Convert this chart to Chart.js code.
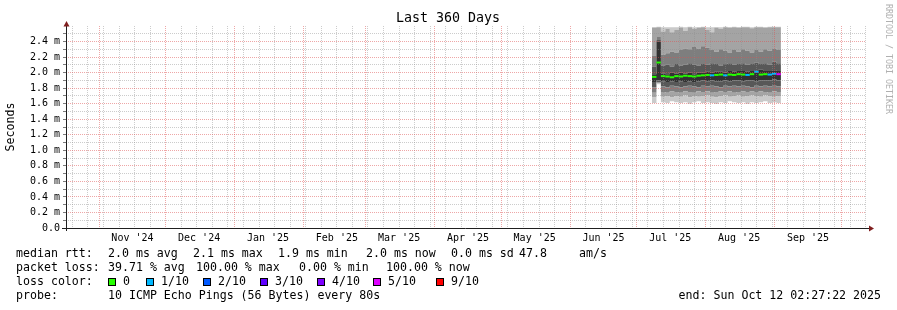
<!DOCTYPE html>
<html lang="en">
<head>
<meta charset="UTF-8">
<title>Last 360 Days</title>
<style>
  html, body { margin: 0; padding: 0; background: #fff; }
  canvas { display: block; }
</style>
</head>
<body>
<canvas id="smoke" width="897" height="310"></canvas>
<script src="https://cdn.jsdelivr.net/npm/chart.js"></script>
<script>
const DAY = 86400000;
const endTime = Date.UTC(2025, 9, 12, 2, 27, 22);
const startTime = endTime - 360 * DAY;

// x axis: month grid and labels, weekly minor grid
const monthStarts = ['2024-11-01', '2024-12-01', '2025-01-01', '2025-02-01', '2025-03-01', '2025-04-01',
                     '2025-05-01', '2025-06-01', '2025-07-01', '2025-08-01', '2025-09-01', '2025-10-01'];
const monthLabels = ["Nov '24", "Dec '24", "Jan '25", "Feb '25", "Mar '25", "Apr '25",
                     "May '25", "Jun '25", "Jul '25", "Aug '25", "Sep '25"];
const firstWeek = '2024-10-20';

// y axis
const yMajor = [0, 0.2, 0.4, 0.6, 0.8, 1.0, 1.2, 1.4, 1.6, 1.8, 2.0, 2.2, 2.4];
const yMinor = [0.1, 0.3, 0.5, 0.7, 0.9, 1.1, 1.3, 1.5, 1.7, 1.9, 2.1, 2.3, 2.5];
const yLabels = ['0.0', '0.2 m', '0.4 m', '0.6 m', '0.8 m', '1.0 m', '1.2 m', '1.4 m', '1.6 m',
                 '1.8 m', '2.0 m', '2.2 m', '2.4 m'];

// samples every 2 days, values in ms
const firstSample = '2025-07-07T19:15:00Z';
const sampleDays = 2;
const median = [1.945, 2.13, 1.955, 1.95, 1.94, 1.955, 1.95, 1.96, 1.955, 1.95, 1.96, 1.965, 1.97, 1.965, 1.97,
                1.975, 1.965, 1.975, 1.97, 1.98, 1.975, 1.97, 1.98, 2.01, 1.975, 1.98, 1.975, 1.985, 1.98];
const lossCount = [0, 0, 0, 0, 0, 0, 0, 0, 0, 0, 0, 0, 0, 1, 0, 0, 1, 0, 0, 0, 0, 1, 0, 1, 0, 0, 1, 1, 5];
// sorted pings (smoke), lowest to highest
const ping1 = [1.61, 1.85, 1.62, 1.61, 1.63, 1.62, 1.61, 1.62, 1.60, 1.62, 1.63, 1.61, 1.62, 1.61, 1.60,
               1.62, 1.61, 1.63, 1.62, 1.61, 1.62, 1.60, 1.62, 1.61, 1.62, 1.63, 1.61, 1.62, 1.61];
const ping2 = [1.68, 1.86, 1.69, 1.70, 1.68, 1.70, 1.69, 1.71, 1.68, 1.70, 1.69, 1.70, 1.71, 1.69, 1.68,
               1.70, 1.71, 1.69, 1.70, 1.71, 1.69, 1.70, 1.71, 1.70, 1.69, 1.71, 1.70, 1.69, 1.70];
const ping3 = [1.74, 1.87, 1.75, 1.74, 1.76, 1.75, 1.74, 1.76, 1.75, 1.74, 1.76, 1.75, 1.76, 1.74, 1.75,
               1.76, 1.75, 1.76, 1.74, 1.75, 1.76, 1.75, 1.76, 1.75, 1.76, 1.75, 1.74, 1.76, 1.75];
const ping4 = [1.81, 1.88, 1.82, 1.81, 1.83, 1.82, 1.81, 1.82, 1.83, 1.82, 1.81, 1.83, 1.82, 1.83, 1.82,
               1.81, 1.83, 1.82, 1.83, 1.82, 1.83, 1.82, 1.81, 1.83, 1.82, 1.83, 1.82, 1.83, 1.82];
const ping5 = [1.88, 1.90, 1.89, 1.88, 1.89, 1.88, 1.89, 1.88, 1.89, 1.88, 1.89, 1.90, 1.89, 1.90, 1.89,
               1.89, 1.90, 1.89, 1.90, 1.90, 1.89, 1.90, 1.90, 1.89, 1.90, 1.90, 1.90, 1.91, 1.90];
const ping6 = [1.98, 2.40, 1.99, 1.98, 2.00, 1.99, 2.00, 1.99, 2.00, 1.98, 2.00, 2.00, 2.01, 2.00, 2.01,
               2.01, 2.00, 2.02, 2.01, 2.02, 2.02, 2.01, 2.02, 2.03, 2.04, 2.02, 2.02, 2.03, 2.02];
const ping7 = [2.08, 2.42, 2.09, 2.10, 2.08, 2.11, 2.09, 2.10, 2.12, 2.10, 2.09, 2.11, 2.10, 2.12, 2.11,
               2.09, 2.11, 2.12, 2.10, 2.11, 2.12, 2.10, 2.11, 2.13, 2.11, 2.12, 2.10, 2.14, 2.12];
const ping8 = [2.22, 2.46, 2.23, 2.25, 2.27, 2.26, 2.29, 2.31, 2.30, 2.33, 2.31, 2.34, 2.32, 2.29, 2.27,
               2.30, 2.28, 2.26, 2.29, 2.27, 2.30, 2.28, 2.26, 2.29, 2.27, 2.30, 2.28, 2.31, 2.29];
const ping9 = [2.58, 2.585, 2.53, 2.56, 2.52, 2.55, 2.58, 2.54, 2.585, 2.56, 2.58, 2.585, 2.55, 2.52, 2.58,
               2.56, 2.585, 2.58, 2.585, 2.58, 2.585, 2.585, 2.57, 2.585, 2.585, 2.58, 2.585, 2.585, 2.585];
const ping10 = [2.585, 2.59, 2.585, 2.585, 2.585, 2.585, 2.59, 2.585, 2.59, 2.585, 2.585, 2.59, 2.585, 2.585, 2.585,
                2.585, 2.59, 2.585, 2.59, 2.585, 2.59, 2.59, 2.585, 2.59, 2.59, 2.585, 2.59, 2.59, 2.59];

// legend
const rttStats = ['2.0 ms avg', '2.1 ms max', '1.9 ms min', '2.0 ms now', '0.0 ms sd', '47.8', 'am/s'];
const lossStats = ['39.71 % avg', '100.00 % max', '0.00 % min', '100.00 % now'];
const lossLabels = ['0', '1/10', '2/10', '3/10', '4/10', '5/10', '9/10'];
const lossColors = ['#26ff00', '#00b8ff', '#0059ff', '#5e00ff', '#7e00ff', '#dd00ff', '#ff0000'];
const probeText = '10 ICMP Echo Pings (56 Bytes) every 80s';
const endText = 'end: Sun Oct 12 02:27:22 2025';

const smokeGreys = ['#cacaca', '#a4a4a4', '#7e7e7e', '#585858', '#323232', '#585858', '#7e7e7e', '#a4a4a4', '#cacaca'];
const MONO = '"DejaVu Sans Mono", monospace';
const GRID = 'rgba(143,143,143,0.45)';
const MGRID = 'rgba(222,79,79,0.5)';

const monthTimes = monthStarts.map(s => Date.parse(s + 'T00:00:00Z'));
const xGrid = [];
for (let t = Date.parse(firstWeek + 'T00:00:00Z'); t < endTime; t += 7 * DAY) {
    if (!monthTimes.includes(t)) xGrid.push({ value: t, major: false });
}
monthTimes.forEach(t => xGrid.push({ value: t, major: true }));
xGrid.sort((a, b) => a.value - b.value);
const labelTimes = monthTimes.slice(0, monthLabels.length).map(t => t + 15 * DAY);
const yTicks = yMajor.concat(yMinor).sort((a, b) => a - b);

const t0 = Date.parse(firstSample);
const STEP = sampleDays * DAY;
// stepped area boundary: value i holds from sample i to sample i+1
function steps(vals) {
    const pts = vals.map((v, i) => ({ x: t0 + i * STEP, y: v }));
    pts.push({ x: t0 + vals.length * STEP, y: vals[vals.length - 1] });
    return pts;
}
// median: one horizontal piece per sample, no vertical joins
function pieces(vals) {
    const pts = [];
    vals.forEach((v, i) => {
        pts.push({ x: t0 + i * STEP, y: v }, { x: t0 + (i + 1) * STEP, y: v }, { x: t0 + (i + 1) * STEP, y: null });
    });
    return pts;
}
function lossColor(n) {
    if (n <= 4) return lossColors[n];
    if (n <= 8) return lossColors[5];
    return lossColors[6];
}
const isMajorY = v => yMajor.some(m => Math.abs(m - v) < 1e-6);

const pings = [ping1, ping2, ping3, ping4, ping5, ping6, ping7, ping8, ping9, ping10];
const smokeSets = pings.map((p, k) => ({
    data: steps(p),
    stepped: 'before',
    fill: k === 0 ? false : '-1',
    backgroundColor: k === 0 ? 'transparent' : smokeGreys[k - 1],
    borderColor: 'transparent',
    borderWidth: 0,
    pointRadius: 0
}));

const rrdFrame = {
    id: 'rrdFrame',
    afterDraw(chart) {
        const c = chart.ctx;
        const a = chart.chartArea;
        c.save();
        // axes
        c.strokeStyle = '#1f1f1f';
        c.lineWidth = 1;
        c.beginPath();
        c.moveTo(a.left + 0.5, a.bottom + 3);
        c.lineTo(a.left + 0.5, a.top - 3);
        c.moveTo(a.left - 4, a.bottom + 0.5);
        c.lineTo(a.right + 3, a.bottom + 0.5);
        c.stroke();
        // arrows
        c.fillStyle = '#801f1f';
        c.beginPath();
        c.moveTo(a.left + 0.5, a.top - 5);
        c.lineTo(a.left - 2.5, a.top + 0.5);
        c.lineTo(a.left + 3.5, a.top + 0.5);
        c.closePath();
        c.fill();
        c.beginPath();
        c.moveTo(a.right + 8, a.bottom + 0.5);
        c.lineTo(a.right + 3, a.bottom - 2.5);
        c.lineTo(a.right + 3, a.bottom + 3.5);
        c.closePath();
        c.fill();

        // title
        c.fillStyle = '#000';
        c.textBaseline = 'middle';
        c.textAlign = 'center';
        c.font = '13.3px ' + MONO;
        c.fillText('Last 360 Days', 448, 19);

        // legend
        c.textAlign = 'left';
        c.font = '11.6px ' + MONO;
        c.fillText('median rtt:', 16, 254);
        [108, 193, 278, 366, 451, 519, 579].forEach((x, i) => c.fillText(rttStats[i], x, 254));
        c.fillText('packet loss:', 16, 268);
        [108, 196, 299, 386].forEach((x, i) => c.fillText(lossStats[i], x, 268));
        c.fillText('loss color:', 16, 282);
        [108, 146, 203, 260, 317, 373, 436].forEach((x, i) => {
            c.fillStyle = lossColors[i];
            c.fillRect(x, 278, 8, 8);
            c.strokeStyle = '#000';
            c.strokeRect(x + 0.5, 278.5, 7, 7);
            c.fillStyle = '#000';
            c.fillText(lossLabels[i], x + 15, 282);
        });
        c.fillText('probe:', 16, 296);
        c.fillText(probeText, 108, 296);
        c.textAlign = 'right';
        c.fillText(endText, 881, 296);

        // watermark
        c.translate(888, 4);
        c.rotate(Math.PI / 2);
        c.textAlign = 'left';
        c.fillStyle = '#b0b0b0';
        c.font = '8.3px ' + MONO;
        c.fillText('RRDTOOL / TOBI OETIKER', 0, 0);
        c.restore();
    }
};

new Chart(document.getElementById('smoke'), {
    type: 'line',
    data: {
        datasets: [{
            data: pieces(median),
            spanGaps: false,
            fill: false,
            borderWidth: 2,
            borderCapStyle: 'butt',
            borderColor: lossColors[0],
            segment: { borderColor: ctx => lossColor(lossCount[Math.floor(ctx.p0DataIndex / 3)]) },
            pointRadius: 0
        }].concat(smokeSets)
    },
    options: {
        responsive: false,
        animation: false,
        events: [],
        devicePixelRatio: 1,
        layout: { padding: { left: 0, top: 26, right: 31, bottom: 62 } },
        plugins: { legend: { display: false }, tooltip: { enabled: false } },
        scales: {
            x: {
                type: 'linear',
                min: startTime,
                max: endTime,
                weight: 0,
                afterFit: s => { s.height = 0; },
                afterBuildTicks: s => { s.ticks = xGrid.map(t => ({ value: t.value, major: t.major })); },
                ticks: { display: false, autoSkip: false },
                grid: {
                    z: 1,
                    drawTicks: false,
                    lineWidth: 1,
                    color: ctx => (ctx.tick && ctx.tick.major ? MGRID : GRID)
                },
                border: { display: false, dash: [1, 1] }
            },
            x2: {
                type: 'linear',
                position: 'bottom',
                min: startTime,
                max: endTime,
                weight: 1,
                afterFit: s => { s.height = 20; },
                afterBuildTicks: s => { s.ticks = labelTimes.map(v => ({ value: v })); },
                ticks: {
                    autoSkip: false,
                    maxRotation: 0,
                    padding: 4,
                    color: '#000',
                    font: { family: MONO, size: 10 },
                    callback: (v, i) => monthLabels[i]
                },
                grid: { display: false, drawTicks: false },
                border: { display: false }
            },
            y: {
                min: 0,
                max: 2.6,
                afterFit: s => { s.width = 66; },
                afterBuildTicks: s => { s.ticks = yTicks.map(v => ({ value: v })); },
                ticks: {
                    autoSkip: false,
                    padding: 3,
                    color: '#000',
                    font: { family: MONO, size: 10 },
                    callback: v => {
                        const i = yMajor.findIndex(m => Math.abs(m - v) < 1e-6);
                        return i < 0 ? '' : yLabels[i];
                    }
                },
                grid: {
                    z: 1,
                    drawTicks: true,
                    tickLength: 3,
                    tickBorderDash: [],
                    lineWidth: 1,
                    color: ctx => {
                        const v = ctx.tick ? ctx.tick.value : 0;
                        if (v < 0.05) return 'transparent';
                        return isMajorY(v) ? MGRID : GRID;
                    },
                    tickColor: 'rgba(90,90,90,0.8)'
                },
                border: { display: false, dash: [1, 1] },
                title: {
                    display: true,
                    text: 'Seconds',
                    color: '#000',
                    font: { family: MONO, size: 11.6 },
                    padding: { top: 4, bottom: 4 }
                }
            }
        }
    },
    plugins: [rrdFrame]
});
</script>
</body>
</html>
